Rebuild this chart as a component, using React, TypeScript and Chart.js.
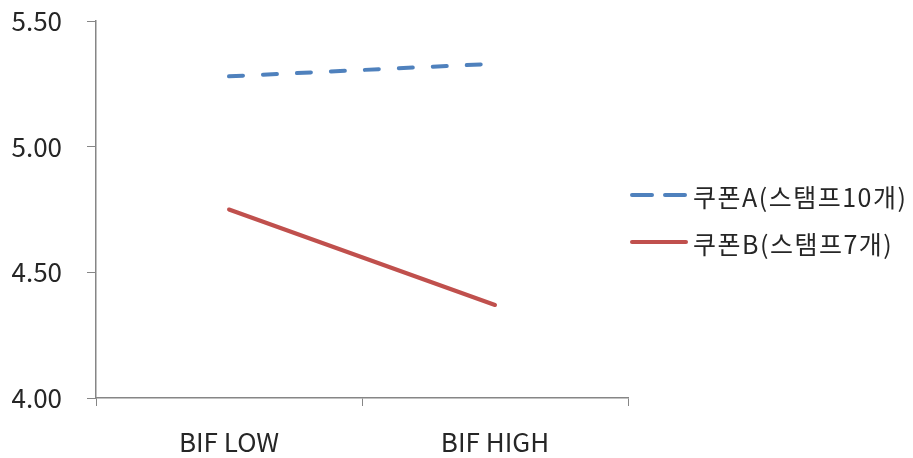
import React, { useEffect, useRef } from "react";
import { Chart, registerables } from "chart.js";

Chart.register(...registerables);

const categories = ["BIF LOW", "BIF HIGH"];
const couponA = [5.28, 5.33];
const couponB = [4.75, 4.37];
const seriesNames = ["쿠폰A(스탬프10개)", "쿠폰B(스탬프7개)"];
const yTicks = [4.0, 4.5, 5.0, 5.5];

const FONT = "'Noto Sans CJK KR', 'Noto Sans', sans-serif";
const BLUE = "#4F81BD";
const RED = "#C0504D";
const AXIS = "#868686";
const TEXT = "#262626";

// Legend drawn to the right of the plot area
const sideLegend = {
  id: "sideLegend",
  afterDraw(chart: any) {
    const ctx = chart.ctx as CanvasRenderingContext2D;
    const x0 = chart.chartArea.right + 2;
    const rows = [
      { y: 195, color: BLUE, dash: [20, 13] },
      { y: 242, color: RED, dash: [] as number[] },
    ];
    ctx.save();
    rows.forEach((r, i) => {
      ctx.beginPath();
      ctx.setLineDash(r.dash);
      ctx.lineCap = "round";
      ctx.lineWidth = 4;
      ctx.strokeStyle = r.color;
      ctx.moveTo(x0 + 2, r.y);
      ctx.lineTo(x0 + 56, r.y);
      ctx.stroke();
      ctx.setLineDash([]);
      ctx.fillStyle = TEXT;
      ctx.font = `25px ${FONT}`;
      (ctx as any).letterSpacing = "1.5px";
      ctx.textBaseline = "middle";
      ctx.textAlign = "left";
      ctx.fillText(seriesNames[i], x0 + 63, r.y + 2);
    });
    ctx.restore();
  },
};

export default function App() {
  const ref = useRef<HTMLCanvasElement | null>(null);

  useEffect(() => {
    if (!ref.current) return;
    const chart = new Chart(ref.current, {
      type: "line",
      data: {
        labels: categories,
        datasets: [
          {
            label: seriesNames[0],
            data: couponA,
            borderColor: BLUE,
            borderWidth: 4,
            borderDash: [14, 20],
            borderCapStyle: "round",
            pointRadius: 0,
            fill: false,
          },
          {
            label: seriesNames[1],
            data: couponB,
            borderColor: RED,
            borderWidth: 4,
            borderCapStyle: "round",
            pointRadius: 0,
            fill: false,
          },
        ],
      },
      options: {
        animation: false,
        responsive: false,
        layout: { padding: { top: 21, right: 285, bottom: 0, left: 0 } },
        plugins: {
          legend: { display: false },
          tooltip: { enabled: false },
        },
        scales: {
          x: {
            offset: true,
            grid: {
              offset: true,
              drawOnChartArea: false,
              drawTicks: true,
              tickLength: 8,
              color: AXIS,
            },
            border: { display: true, color: AXIS, width: 1.5 },
            ticks: {
              color: TEXT,
              font: { family: FONT, size: 26 },
              padding: 21,
            },
            afterFit: (s: any) => {
              s.height = 60;
              s.paddingLeft = 0;
              s.paddingRight = 0;
            },
          },
          y: {
            min: 4,
            max: 5.5,
            afterBuildTicks: (s: any) => {
              s.ticks = yTicks.map((v) => ({ value: v }));
            },
            grid: {
              drawOnChartArea: false,
              drawTicks: true,
              tickLength: 9,
              color: AXIS,
            },
            border: { display: true, color: AXIS, width: 1.5 },
            ticks: {
              color: TEXT,
              font: { family: FONT, size: 26 },
              padding: 25,
              callback: (v: any) => Number(v).toFixed(2),
            },
            afterFit: (s: any) => {
              s.width = 96;
              s.paddingTop = 0;
              s.paddingBottom = 0;
            },
          },
        },
      },
      plugins: [sideLegend],
    });
    return () => chart.destroy();
  }, []);

  return (
    <div style={{ position: "fixed", left: 0, top: 0, width: 913, height: 458, background: "#fff" }}>
      <canvas ref={ref} width={913} height={458} style={{ width: 913, height: 458 }} />
    </div>
  );
}
